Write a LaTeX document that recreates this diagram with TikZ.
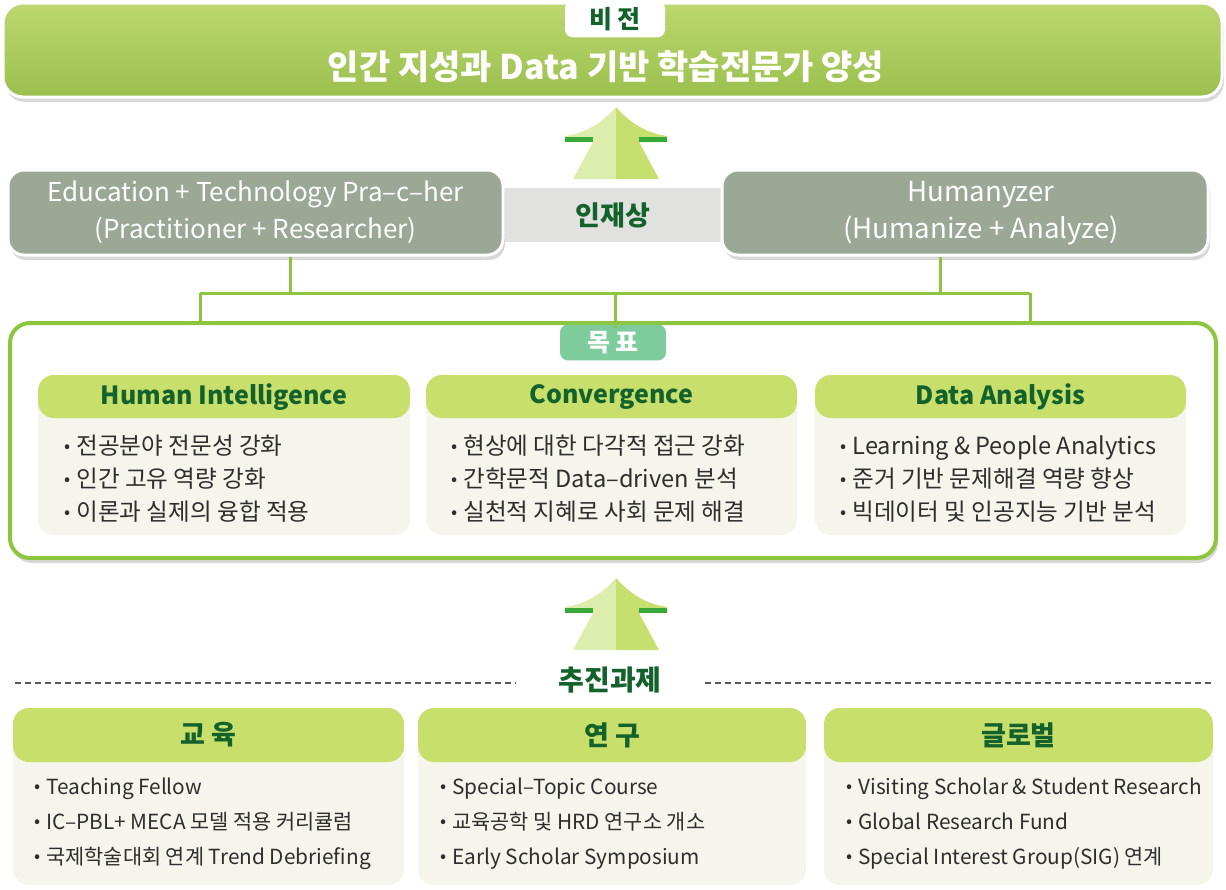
\documentclass[tikz,border=0pt]{standalone}
\usepackage{fontspec}
\setmainfont{Noto Sans CJK KR}
\usepackage{tikz}
\usetikzlibrary{shadows}

\definecolor{bannertop}{HTML}{BCD86F}
\definecolor{bannerbot}{HTML}{9BBF4E}
\definecolor{darkgreen}{HTML}{14622B}
\definecolor{headgreen}{HTML}{C8DF6C}
\definecolor{cream}{HTML}{F5F5EC}
\definecolor{boxgray}{HTML}{9BA895}
\definecolor{bandgray}{HTML}{E1E2E0}
\definecolor{linegreen}{HTML}{8CC63E}
\definecolor{mint}{HTML}{7ECB9C}
\definecolor{arrowlight}{HTML}{DDEDAE}
\definecolor{arrowdark}{HTML}{C6DF6E}
\definecolor{barGreen}{HTML}{38A936}
\definecolor{textgray}{HTML}{2E2E2E}

\newcommand{\bul}{{\fontsize{9}{9}\selectfont\raisebox{1pt}{\textbullet}}\hspace{3pt}}

\tikzset{
  link/.style={draw=linegreen, line width=1.5pt},
  shadowed/.style={drop shadow={shadow xshift=1pt, shadow yshift=-2.5pt, opacity=.3}},
  graybox/.style={rectangle, rounded corners=8pt, fill=boxgray, draw=white, line width=1.5pt, inner sep=0pt, shadowed},
  panel/.style={rectangle, rounded corners=8pt, fill=cream, inner sep=0pt,
    path picture={\fill[headgreen] (path picture bounding box.north west) rectangle ([yshift=-#1]path picture bounding box.north east);}},
  ptitle/.style={text=darkgreen, font=\bfseries\fontsize{12.5}{15}\selectfont},
  plist/.style={anchor=west, align=left, text=textgray, inner sep=0pt},
}

\begin{document}
\begin{tikzpicture}[x=0.5pt,y=-0.5pt]
\fill[white] (0,0) rectangle (1226,889);
\useasboundingbox (0,0) rectangle (1226,889);

%vision
\node [rectangle, rounded corners=10pt, top color=bannertop, bottom color=bannerbot, draw=white, line width=1.5pt, minimum width=609.5pt, minimum height=47pt, shadowed] (vision) at (612.5,50){};
\node [rectangle, rounded corners=4pt, fill=white, minimum width=50pt, minimum height=16pt, text=darkgreen, font=\bfseries\fontsize{12.5}{14}\selectfont] (vtab) at (615,19){비 전};
\node [text=white, font=\bfseries\fontsize{17}{20}\selectfont] (vtitle) at (606,67){인간 지성과 Data 기반 학습전문가 양성};

%arrows
\foreach \ay in {107,578}{
  \begin{scope}[shift={(616,\ay)}]
  \fill[arrowlight] (0,0) .. controls (-14,16) and (-30,26) .. (-51,29) -- (-51,35) -- (-23,35) -- (-43,72) -- (0,72) -- cycle;
  \fill[arrowdark] (0,0) .. controls (14,16) and (30,26) .. (51,29) -- (51,35) -- (23,35) -- (43,72) -- (0,72) -- cycle;
  \fill[barGreen] (-51,30) rectangle (-23,35);
  \fill[barGreen] (23,30) rectangle (51,35);
  \end{scope}
}

%people
\node [rectangle, fill=bandgray, minimum width=122.5pt, minimum height=27pt] (band) at (612.5,215){};
\node [text=darkgreen, font=\bfseries\fontsize{13.5}{16}\selectfont] (ideal) at (613,215){인재상};
\node [graybox, minimum width=247.5pt, minimum height=42.5pt, align=center, text=white, font=\fontsize{13}{18.5}\selectfont] (edu) at (255.5,212.5){Education + Technology Pra–c–her\\(Practitioner + Researcher)};
\node [graybox, minimum width=243pt, minimum height=42.5pt] (hum) at (965,212.5){};
\node [align=center, text=white, font=\fontsize{13.8}{18.5}\selectfont] (humtext) at (981,213){Humanyzer\\(Humanize + Analyze)};

%goal
\node [rectangle, rounded corners=10pt, fill=white, draw=linegreen, line width=2pt, minimum width=603pt, minimum height=117.5pt, shadowed] (goal) at (613,440.5){};
\node [rectangle, rounded corners=4pt, fill=mint, minimum width=53pt, minimum height=17.5pt, text=white, font=\bfseries\fontsize{12.5}{14}\selectfont] (gtab) at (613,342.5){목 표};

\coordinate (tl) at (290,293);
\coordinate (tr) at (940,293);
\coordinate (bl) at (200,293);
\coordinate (bm) at (615,293);
\coordinate (br) at (1030,293);
\draw[link] (edu.south -| tl) -- (tl);
\draw[link] (hum.south -| tr) -- (tr);
\draw[link] (bl) -- (br);
\draw[link] (bl) -- (bl |- goal.north);
\draw[link] (br) -- (br |- goal.north);
\draw[link] (bm) -- ([yshift=-2pt]gtab.north -| bm);

\node [panel=21.5pt, minimum width=186pt, minimum height=80pt] (hi) at (224,455){};
\node [ptitle] (hititle) at (224,397){Human Intelligence};
\node [plist, font=\fontsize{11.8}{16.5}\selectfont] (hilist) at (64,479){\bul 전공분야 전문성 강화\\\bul 인간 고유 역량 강화\\\bul 이론과 실제의 융합 적용};

\node [panel=21.5pt, minimum width=185.5pt, minimum height=80pt] (conv) at (611.5,455){};
\node [ptitle] (convtitle) at (611.5,397){Convergence};
\node [plist, font=\fontsize{11.8}{16.5}\selectfont] (convlist) at (451,479){\bul 현상에 대한 다각적 접근 강화\\\bul 간학문적 Data–driven 분석\\\bul 실천적 지혜로 사회 문제 해결};

\node [panel=21.5pt, minimum width=185.5pt, minimum height=80pt] (da) at (1000.5,455){};
\node [ptitle] (datitle) at (1000.5,397){Data Analysis};
\node [plist, font=\fontsize{11.8}{16.5}\selectfont] (dalist) at (840,479){\bul Learning \& People Analytics\\\bul 준거 기반 문제해결 역량 향상\\\bul 빅데이터 및 인공지능 기반 분석};

%tasks
\node [text=darkgreen, font=\bfseries\fontsize{14}{16}\selectfont] (task) at (610,680){추진과제};
\coordinate (dl) at (15,683);
\coordinate (dr) at (1212,683);
\draw[gray!70!black, line width=1.2pt, dash pattern=on 3pt off 2pt] (dl) -- ([xshift=-18pt]task.west |- dl);
\draw[gray!70!black, line width=1.2pt, dash pattern=on 3pt off 2pt] ([xshift=18pt]task.east |- dr) -- (dr);

\node [panel=27pt, minimum width=195.5pt, minimum height=88.5pt] (edub) at (208.5,796.5){};
\node [ptitle, font=\bfseries\fontsize{13.5}{15}\selectfont] (edubtitle) at (208.5,735){교 육};
\node [plist, font=\fontsize{10.4}{17.5}\selectfont] (edublist) at (34,824){\bul Teaching Fellow\\\bul IC–PBL+ MECA 모델 적용 커리큘럼\\\bul 국제학술대회 연계 Trend Debriefing};

\node [panel=27pt, minimum width=194pt, minimum height=88.5pt] (res) at (612,796.5){};
\node [ptitle, font=\bfseries\fontsize{13.5}{15}\selectfont] (restitle) at (612,735){연 구};
\node [plist, font=\fontsize{10.4}{17.5}\selectfont] (reslist) at (440,824){\bul Special–Topic Course\\\bul 교육공학 및 HRD 연구소 개소\\\bul Early Scholar Symposium};

\node [panel=27pt, minimum width=194.5pt, minimum height=88.5pt] (glob) at (1018.5,796.5){};
\node [ptitle, font=\bfseries\fontsize{13.5}{15}\selectfont] (globtitle) at (1018.5,735){글로벌};
\node [plist, font=\fontsize{10.4}{17.5}\selectfont] (globlist) at (846,824){\bul Visiting Scholar \& Student Research\\\bul Global Research Fund\\\bul Special Interest Group(SIG) 연계};

\end{tikzpicture}
\end{document}
